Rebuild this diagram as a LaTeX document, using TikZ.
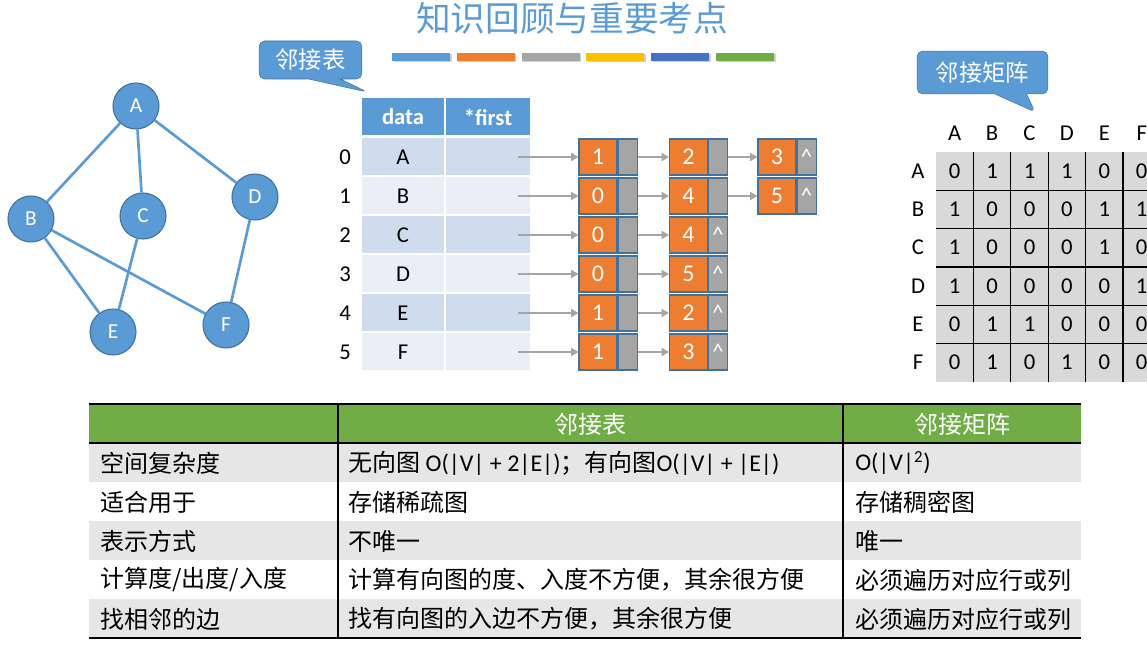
\documentclass[tikz,border=0pt]{standalone}
\usepackage{fontspec}
\setmainfont{Carlito}
\newfontfamily\cjk{Noto Sans CJK SC}
\usepackage{xcolor}
\usetikzlibrary{arrows.meta,positioning,shapes.callouts}
\definecolor{accBlue}{RGB}{91,155,213}
\definecolor{accEdge}{RGB}{65,113,156}
\definecolor{accOrange}{RGB}{237,125,49}
\definecolor{accGray}{RGB}{165,165,165}
\definecolor{accYellow}{RGB}{255,192,0}
\definecolor{accDBlue}{RGB}{68,114,196}
\definecolor{accGreen}{RGB}{112,173,71}
\definecolor{rowDark}{RGB}{207,220,238}
\definecolor{rowLight}{RGB}{233,239,247}
\definecolor{cellGray}{RGB}{217,217,217}
\definecolor{stripe}{RGB}{231,230,230}
\tikzset{
	vertex/.style={circle, draw=accEdge, line width=0.8pt, fill=accBlue, minimum size=34.5pt, inner sep=0pt, text=white, font=\fontsize{16}{16}\selectfont},
	link/.style={draw=accBlue, line width=2pt},
	callbox/.style={rectangle callout, draw=accEdge, fill=accBlue, rounded corners=4pt, callout pointer width=24pt, text=white, inner sep=0pt, font=\cjk\fontsize{17.5}{20}\selectfont},
	hdr/.style={fill=accBlue, text=white, minimum height=27.75pt, inner sep=0pt, font=\bfseries\fontsize{17}{20}\selectfont},
	slot/.style={minimum height=27.75pt, inner sep=0pt, font=\fontsize{17}{20}\selectfont},
	val/.style={draw=accEdge, line width=0.8pt, fill=accOrange, minimum width=28.5pt, minimum height=27pt, inner sep=0pt, text=white, font=\fontsize{18}{20}\selectfont},
	ptr/.style={draw=accEdge, line width=0.8pt, fill=accGray, minimum width=14.25pt, minimum height=27pt, inner sep=0pt, text=white, font=\fontsize{17}{20}\selectfont},
	ptrflow/.style={draw=accGray, line width=2pt, -{Triangle[length=5.5pt,width=6pt]}},
	cellnum/.style={inner sep=0pt, font=\fontsize{17}{20}\selectfont},
	cell/.style={anchor=west, inner sep=0pt, font=\cjk\fontsize{18}{20}\selectfont},
	headcell/.style={text=white, inner sep=0pt, font=\cjk\fontsize{18}{20}\selectfont}
}

\begin{document}
\begin{tikzpicture}[x=0.75pt, y=-0.75pt]
	\useasboundingbox (0,0) rectangle (1147,645);
	\node[text=accBlue, font=\cjk\fontsize{26}{30}\selectfont] (title) at (572,18) {知识回顾与重要考点};
	\foreach \c [count=\i from 0] in {accBlue,accOrange,accGray,accYellow,accDBlue,accGreen} {
		\fill[black!18] (393.5+64.8*\i,54.5) rectangle ++(58,8);
		\fill[\c] (392+64.8*\i,53) rectangle ++(58,8);
	}

	\node[vertex] (A) at (136,106) {A};
	\node[vertex] (B) at (31,219) {B};
	\node[vertex] (C) at (143,216) {C};
	\node[vertex] (D) at (255,197) {D};
	\node[vertex] (E) at (113,332) {E};
	\node[vertex] (F) at (226,325) {F};
	\draw[link] (A) -- (B);
	\draw[link] (A) -- (C);
	\draw[link] (A) -- (D);
	\draw[link] (B) -- (E);
	\draw[link] (B) -- (F);
	\draw[link] (C) -- (E);
	\draw[link] (D) -- (F);

	\coordinate (tipList) at (367,92);
	\node[callbox, minimum width=77pt, minimum height=28.5pt, callout absolute pointer={(tipList)}] (calloutList) at (310.5,60) {邻接表};
	\coordinate (tipMat) at (1035,112);
	\node[callbox, minimum width=98pt, minimum height=32pt, callout absolute pointer={(tipMat)}] (calloutMat) at (982.5,72.5) {邻接矩阵};

	\node[hdr, minimum width=61.5pt] (hdata) at (403,117) {data};
	\node[hdr, minimum width=63pt] (hfirst) at (488,117) {*first};
	\foreach \l [count=\r from 0, evaluate=\r as \y using 157+39*\r] in {A,B,C,D,E,F} {
		\ifodd\r \def\tone{rowLight}\else \def\tone{rowDark}\fi
		\node[slot] (idx\r) at (345,\y) {\r};
		\node[slot, fill=\tone, minimum width=61.5pt] (data\r) at (403,\y) {\l};
		\node[slot, fill=\tone, minimum width=63pt] (first\r) at (488,\y) {};
	}

	\foreach \r/\a/\b in {0/1/2, 1/0/4, 2/0/4, 3/0/5, 4/1/2, 5/1/3} {
		\node[val] (va\r) at (598,157+39*\r) {\a};
		\node[ptr, right=0pt of va\r] (pa\r) {};
		\node[val] (vb\r) at (688.5,157+39*\r) {\b};
		\node[ptr, right=0pt of vb\r] (pb\r) {\ifnum\r>1 \textasciicircum\fi};
		\draw[ptrflow] ([xshift=-9pt]first\r.east) -- (va\r.west);
		\draw[ptrflow] (pa\r.east) -- (vb\r.west);
	}
	\node[val] (vc0) at (777,157) {3};
	\node[ptr, right=0pt of vc0] (pc0) {\textasciicircum};
	\node[val] (vc1) at (777,196) {5};
	\node[ptr, right=0pt of vc1] (pc1) {\textasciicircum};
	\draw[ptrflow] (pb0.east) -- (vc0.west);
	\draw[ptrflow] (pb1.east) -- (vc1.west);

	\fill[cellGray] (936,152) rectangle (1160,382);
	\foreach \k in {1,...,5} {
		\draw[line width=1pt] (936+37.4*\k,152) -- (936+37.4*\k,382);
		\draw[line width=1pt] (936,152+38.33*\k) -- (1160,152+38.33*\k);
	}
	\foreach \l [count=\c from 0] in {A,B,C,D,E,F} {
		\node[cellnum] (col\c) at (954.7+37.4*\c,133) {\l};
		\node[cellnum] (row\c) at (918,171+38.33*\c) {\l};
	}
	\foreach \vals [count=\r from 0] in {{0,1,1,1,0,0},{1,0,0,0,1,1},{1,0,0,0,1,0},{1,0,0,0,0,1},{0,1,1,0,0,0},{0,1,0,1,0,0}} {
		\foreach \v [count=\c from 0] in \vals
			\node[cellnum] (m\r\c) at (954.7+37.4*\c,171+38.33*\r) {\v};
	}

	\fill[accGreen] (89,404) rectangle (1081,443);
	\foreach \r in {0,2,4}
		\fill[stripe] (89,443+39*\r) rectangle (1081,482+39*\r);
	\draw[line width=1.6pt] (89,404) -- (1081,404);
	\draw[line width=1.6pt] (89,443) -- (1081,443);
	\draw[line width=1.6pt] (89,638) -- (1081,638);
	\draw[line width=0.8pt] (338,404) -- (338,638);
	\draw[line width=0.8pt] (843,404) -- (843,638);
	\node[headcell] (hlist) at (590.5,424) {邻接表};
	\node[headcell] (hmat) at (962,424) {邻接矩阵};
	\node[cell] (k1) at (100,463) {空间复杂度};
	\node[cell] (l1) at (348,463) {无向图 {\rmfamily O(|V| + 2|E|)}；有向图{\rmfamily O(|V| + |E|)}};
	\node[cell] (m1) at (855,463) {\rmfamily O(|V|\textsuperscript{2})};
	\node[cell] (k2) at (100,502) {适合用于};
	\node[cell] (l2) at (348,502) {存储稀疏图};
	\node[cell] (m2) at (855,502) {存储稠密图};
	\node[cell] (k3) at (100,541) {表示方式};
	\node[cell] (l3) at (348,541) {不唯一};
	\node[cell] (m3) at (855,541) {唯一};
	\node[cell] (k4) at (100,580) {计算度/出度/入度};
	\node[cell] (l4) at (348,580) {计算有向图的度、入度不方便，其余很方便};
	\node[cell] (m4) at (855,580) {必须遍历对应行或列};
	\node[cell] (k5) at (100,619) {找相邻的边};
	\node[cell] (l5) at (348,619) {找有向图的入边不方便，其余很方便};
	\node[cell] (m5) at (855,619) {必须遍历对应行或列};
\end{tikzpicture}
\end{document}
